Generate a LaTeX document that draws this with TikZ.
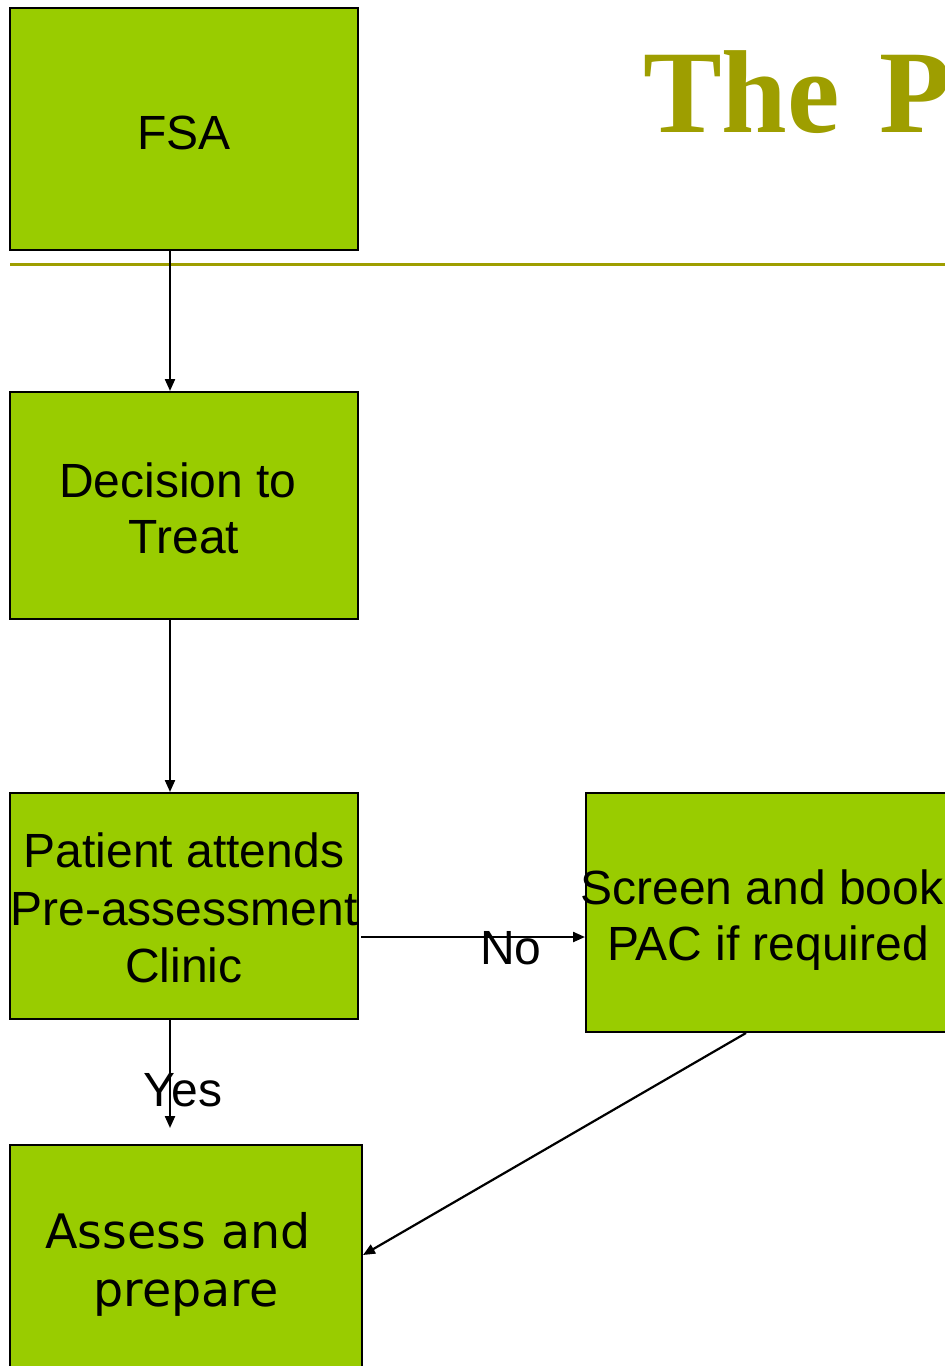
\documentclass[tikz,border=0pt]{standalone}
\usepackage{fontspec}
\setmainfont{Liberation Sans}
\newfontfamily\titlefont{Liberation Serif}
\newfontfamily\verdfont{DejaVu Sans}
\usetikzlibrary{arrows.meta}
\definecolor{boxgreen}{RGB}{153,204,0}
\definecolor{olive}{RGB}{158,158,0}
\tikzset{
  box/.style={draw=black, fill=boxgreen, line width=2pt, rectangle, inner sep=0pt},
  txt/.style={anchor=base, inner sep=0pt, font=\fontsize{48}{56}\selectfont},
  vtxt/.style={anchor=base, inner sep=0pt, font=\verdfont\fontsize{47.5}{56}\selectfont},
  conn/.style={draw=black, line width=2.2pt, -{Triangle[length=12pt,width=10pt]}}
}
\begin{document}
\begin{tikzpicture}[x=1pt,y=-1pt]
\useasboundingbox (0,0) rectangle (945,1366);
\clip (0,0) rectangle (945,1366);
% title and rule
\node[anchor=base west, inner sep=0pt, text=olive, font=\titlefont\bfseries\fontsize{118}{120}\selectfont] (title) at (643,132) {The\hspace{10pt} P};
\draw[olive, line width=3pt] (10,264) -- (945,264);
% boxes
\node[box, minimum width=348pt, minimum height=242pt] (fsa) at (184,129) {};
\node[box, minimum width=348pt, minimum height=227pt] (dec) at (184,505.5) {};
\node[box, minimum width=348pt, minimum height=226pt] (pat) at (184,906) {};
\node[box, minimum width=374pt, minimum height=239pt] (scr) at (773,912.5) {};
\node[box, minimum width=352pt, minimum height=230pt] (ass) at (186,1260) {};
% texts
\node[txt] (fsat) at (184,149) {FSA};
\node[txt] (dect1) at (178,497) {Decision to};
\node[txt] (dect2) at (184,553) {Treat};
\node[txt] (patt1) at (184,867) {Patient attends};
\node[txt] (patt2) at (184,925) {Pre-assessment};
\node[txt] (patt3) at (184,982) {Clinic};
\node[txt] (scrt1) at (762,904) {Screen and book};
\node[txt] (scrt2) at (768,960) {PAC if required};
\node[vtxt] (asst1) at (178,1248) {Assess and};
\node[vtxt] (asst2) at (186,1306) {prepare};
% connectors
\draw[conn] ([xshift=-14pt]fsa.south) -- ([xshift=-14pt]dec.north);
\draw[conn] ([xshift=-14pt]dec.south) -- ([xshift=-14pt]pat.north);
\coordinate (yesend) at (170,1128);
\draw[conn] ([xshift=-14pt]pat.south) -- (yesend);
\draw[conn] ([xshift=2pt,yshift=-31pt]pat.east) -- ([yshift=-24.5pt]scr.west);
\draw[conn] ([xshift=-27pt]scr.south) -- ([yshift=5pt]ass.east);
% labels
\node[txt] (no) at (511,964) {No};
\node[txt] (yes) at (183,1106) {Yes};
\end{tikzpicture}
\end{document}
